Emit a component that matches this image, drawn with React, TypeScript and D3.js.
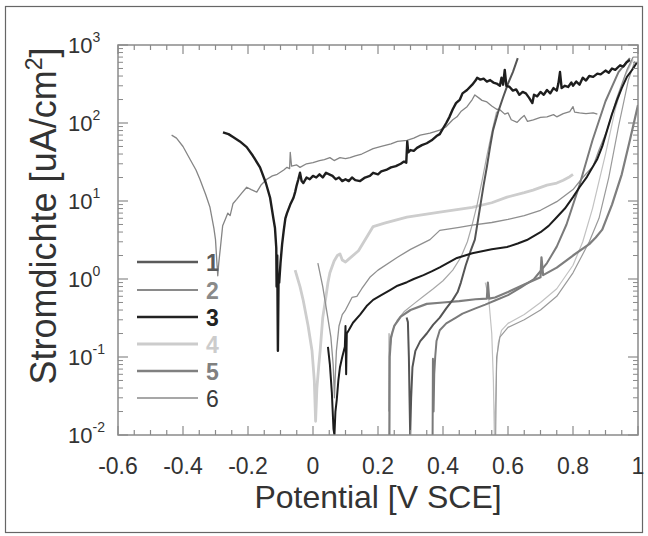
import React from "react";
import * as d3 from "d3";

// ---- axis ticks ----
const xTickValues = [-0.6, -0.4, -0.2, 0, 0.2, 0.4, 0.6, 0.8, 1];
const xTickLabels = ["-0.6", "-0.4", "-0.2", "0", "0.2", "0.4", "0.6", "0.8", "1"];
const yDecades = [-2, -1, 0, 1, 2, 3];

// ---- legend ----
const legendLabels = ["1", "2", "3", "4", "5", "6"];

// ---- data: [potential V, current density uA/cm2] ----
const curveA: [number, number][] = [
  [-0.435, 70], [-0.42, 64], [-0.4, 50], [-0.378, 34], [-0.36, 25], [-0.348, 19], [-0.33, 12],
  [-0.317, 8.3], [-0.305, 4.5], [-0.3, 3.2], [-0.296, 1.7], [-0.293, 1.1], [-0.29, 1.6],
  [-0.285, 2.5], [-0.278, 4.8], [-0.27, 5.8], [-0.262, 7], [-0.255, 6.5], [-0.246, 9.3],
  [-0.235, 10.5], [-0.22, 12.5], [-0.204, 15], [-0.19, 14], [-0.173, 13], [-0.16, 16],
  [-0.142, 19], [-0.125, 21], [-0.11, 22], [-0.09, 25], [-0.08, 27], [-0.072, 26], [-0.07, 42],
  [-0.066, 28], [-0.05, 29], [-0.04, 27], [-0.02, 30], [0.0, 31], [0.02, 33], [0.035, 34],
  [0.052, 36], [0.065, 33], [0.083, 36], [0.1, 35], [0.114, 36], [0.13, 38], [0.15, 40],
  [0.185, 47], [0.21, 50], [0.24, 54], [0.26, 58], [0.289, 60], [0.31, 64], [0.33, 70],
  [0.36, 74], [0.39, 81], [0.41, 90], [0.43, 110], [0.443, 120], [0.455, 140], [0.474, 162],
  [0.49, 200], [0.498, 229], [0.51, 210], [0.52, 195], [0.535, 186], [0.55, 165], [0.565, 150],
  [0.575, 148], [0.59, 130], [0.6, 135], [0.61, 110], [0.628, 102], [0.64, 115], [0.65, 125],
  [0.66, 105], [0.678, 110], [0.7, 118], [0.72, 120], [0.74, 128], [0.75, 120], [0.77, 132],
  [0.79, 140], [0.8, 162], [0.805, 138], [0.82, 135], [0.84, 132], [0.862, 135], [0.875, 130],
];

const curveB: [number, number][] = [
  [-0.277, 76], [-0.26, 72], [-0.246, 66], [-0.225, 58], [-0.204, 49], [-0.185, 38], [-0.163, 27],
  [-0.145, 17], [-0.132, 11], [-0.122, 6], [-0.117, 4.5], [-0.113, 2.5], [-0.112, 0.8],
  [-0.11, 2.0], [-0.108, 0.12], [-0.106, 1.0], [-0.104, 0.9], [-0.1, 1.6], [-0.095, 2.8],
  [-0.09, 4.2], [-0.085, 6], [-0.08, 7], [-0.07, 9], [-0.06, 11], [-0.055, 13], [-0.05, 16],
  [-0.045, 19], [-0.04, 23], [-0.035, 18], [-0.03, 17], [-0.02, 20], [-0.01, 19], [0.0, 21],
  [0.01, 20], [0.02, 22], [0.03, 20], [0.04, 23], [0.05, 22], [0.06, 21], [0.07, 19], [0.08, 20],
  [0.09, 18], [0.1, 19], [0.11, 18], [0.12, 20], [0.13, 18.5], [0.145, 18], [0.16, 20],
  [0.175, 21], [0.185, 23], [0.2, 22], [0.21, 24], [0.225, 25], [0.24, 27], [0.255, 28],
  [0.27, 30], [0.28, 32], [0.287, 31], [0.29, 58], [0.293, 42], [0.3, 45], [0.31, 44],
  [0.32, 48], [0.335, 52], [0.35, 55], [0.365, 60], [0.38, 68], [0.39, 72], [0.4, 85],
  [0.41, 100], [0.42, 120], [0.43, 150], [0.44, 180], [0.452, 200], [0.46, 240], [0.474, 265],
  [0.49, 310], [0.5, 350], [0.505, 380], [0.515, 360], [0.525, 370], [0.535, 340], [0.545, 355],
  [0.555, 330], [0.565, 320], [0.575, 300], [0.58, 380], [0.585, 310], [0.59, 480], [0.595, 300],
  [0.605, 290], [0.615, 260], [0.625, 270], [0.635, 230], [0.645, 250], [0.655, 240],
  [0.665, 210], [0.675, 180], [0.68, 230], [0.69, 220], [0.7, 250], [0.71, 230], [0.72, 265],
  [0.73, 240], [0.74, 280], [0.75, 260], [0.755, 320], [0.76, 450], [0.765, 280], [0.775, 300],
  [0.785, 290], [0.795, 330], [0.8, 300], [0.81, 340], [0.82, 310], [0.83, 380], [0.84, 350],
  [0.85, 400], [0.862, 390], [0.875, 430], [0.885, 420], [0.9, 470], [0.91, 440], [0.92, 500],
  [0.93, 480], [0.945, 550], [0.955, 530], [0.965, 600], [0.975, 640],
];

const curveC: [number, number][] = [
  [-0.055, 1.3], [-0.04, 0.8], [-0.03, 0.53], [-0.015, 0.25], [-0.003, 0.12], [0.004, 0.05],
  [0.008, 0.015], [0.012, 0.04], [0.018, 0.08], [0.022, 0.12], [0.03, 0.32], [0.04, 0.6],
  [0.046, 0.9], [0.052, 1.2], [0.065, 1.7], [0.075, 2.0], [0.083, 2.1], [0.09, 1.75],
  [0.1, 1.65], [0.11, 1.8], [0.14, 2.3], [0.185, 4.7], [0.22, 5.2], [0.289, 6.2], [0.39, 7.2],
  [0.49, 8.3], [0.55, 9.5], [0.597, 11.2], [0.65, 12.8], [0.677, 13.8], [0.72, 16], [0.75, 17],
  [0.77, 18.5], [0.79, 20.5], [0.8, 22],
];

const curveD: [number, number][] = [
  [0.015, 1.6], [0.03, 0.8], [0.045, 0.33], [0.055, 0.18], [0.062, 0.08], [0.066, 0.03],
  [0.068, 0.05], [0.072, 0.12], [0.08, 0.25], [0.09, 0.35], [0.1, 0.4], [0.12, 0.58],
  [0.135, 0.6], [0.15, 0.75], [0.175, 1.05], [0.2, 1.3], [0.26, 1.9], [0.3, 2.4], [0.36, 3.2],
  [0.39, 4.2], [0.45, 4.6], [0.49, 4.9], [0.55, 5.3], [0.6, 5.8], [0.65, 6.5], [0.7, 7.6],
  [0.75, 9.8], [0.8, 14], [0.83, 20], [0.862, 28], [0.88, 45], [0.905, 81], [0.935, 210],
  [0.966, 480], [0.985, 700],
];

const curveE: [number, number][] = [
  [0.046, 0.135], [0.052, 0.08], [0.058, 0.035], [0.063, 0.012], [0.066, 0.01], [0.069, 0.02],
  [0.073, 0.028], [0.078, 0.05], [0.083, 0.074], [0.09, 0.1], [0.098, 0.135], [0.1, 0.25],
  [0.102, 0.06], [0.104, 0.2], [0.11, 0.22], [0.123, 0.275], [0.145, 0.35], [0.165, 0.45],
  [0.185, 0.54], [0.21, 0.62], [0.237, 0.72], [0.26, 0.82], [0.289, 0.91], [0.31, 1.0],
  [0.34, 1.12], [0.365, 1.25], [0.39, 1.41], [0.443, 1.86], [0.49, 2.14], [0.55, 2.4],
  [0.597, 2.57], [0.63, 2.85], [0.658, 3.16], [0.7, 3.98], [0.725, 4.8], [0.75, 6.2],
  [0.775, 8], [0.8, 11.2], [0.82, 15], [0.843, 20.4], [0.874, 34], [0.89, 50], [0.905, 81],
  [0.92, 130], [0.935, 195], [0.95, 280], [0.966, 390], [0.985, 500], [0.997, 600],
];

const curveF: [number, number][] = [
  [0.288, 0.32], [0.292, 0.28], [0.295, 0.1], [0.297, 0.03], [0.299, 0.01], [0.302, 0.03],
  [0.306, 0.074], [0.315, 0.12], [0.33, 0.16], [0.35, 0.2], [0.37, 0.26], [0.39, 0.32],
  [0.41, 0.42], [0.43, 0.54], [0.445, 0.68], [0.455, 0.9], [0.47, 1.5], [0.485, 2.3],
  [0.498, 3.2], [0.514, 8.3], [0.525, 16], [0.535, 27.5], [0.545, 50], [0.554, 81], [0.57, 140],
  [0.585, 214], [0.6, 320], [0.615, 450], [0.63, 680],
];

const curveG: [number, number][] = [
  [0.235, 0.01], [0.236, 0.1], [0.24, 0.18], [0.25, 0.25], [0.27, 0.33], [0.3, 0.4],
  [0.35, 0.48], [0.4, 0.5], [0.45, 0.52], [0.5, 0.55], [0.535, 0.56], [0.538, 0.9],
  [0.542, 0.56], [0.56, 0.58], [0.6, 0.68], [0.65, 0.85], [0.7, 1.05], [0.703, 1.9],
  [0.708, 1.12], [0.75, 1.4], [0.8, 2.0], [0.85, 2.8], [0.87, 3.4], [0.89, 4.3], [0.92, 9],
  [0.95, 22], [0.975, 60], [1.0, 170],
];

const curveH: [number, number][] = [
  [0.53, 0.9], [0.54, 0.6], [0.55, 0.2], [0.555, 0.05], [0.558, 0.01], [0.562, 0.03],
  [0.565, 0.08], [0.57, 0.15], [0.58, 0.22], [0.6, 0.27], [0.65, 0.35], [0.7, 0.5],
  [0.75, 0.75], [0.8, 1.5], [0.83, 3], [0.86, 8], [0.9, 40], [0.93, 150], [0.96, 400],
  [0.985, 650],
];

const curveI: [number, number][] = [
  [0.562, 0.01], [0.565, 0.1], [0.575, 0.18], [0.6, 0.24], [0.65, 0.3], [0.7, 0.4],
  [0.75, 0.6], [0.8, 1.2], [0.85, 3], [0.88, 6], [0.91, 20], [0.94, 90], [0.97, 350],
  [0.99, 620],
];

const curveJ: [number, number][] = [
  [0.233, 0.02], [0.234, 0.2], [0.236, 0.12], [0.245, 0.22], [0.26, 0.3], [0.28, 0.38],
  [0.31, 0.48], [0.34, 0.6], [0.37, 0.75], [0.4, 0.95], [0.43, 1.3], [0.455, 1.9], [0.475, 3],
  [0.49, 5], [0.505, 9], [0.52, 18], [0.535, 38], [0.55, 75], [0.565, 140],
];

const curveK: [number, number][] = [
  [0.368, 0.01], [0.369, 0.095], [0.371, 0.02], [0.373, 0.06], [0.376, 0.1], [0.38, 0.16],
  [0.39, 0.22], [0.41, 0.27], [0.44, 0.32], [0.46, 0.36], [0.5, 0.42], [0.53, 0.47],
  [0.56, 0.53], [0.6, 0.62], [0.64, 0.78], [0.68, 1.0], [0.72, 1.6], [0.75, 2.6], [0.78, 5],
  [0.82, 16], [0.86, 60], [0.9, 190], [0.94, 450], [0.975, 680],
];

const series = [
  { data: curveA, color: "#858585", width: 1.3 },
  { data: curveC, color: "#cdcdcd", width: 2.8 },
  { data: curveH, color: "#c2c2c2", width: 1.2 },
  { data: curveJ, color: "#a8a8a8", width: 1.2 },
  { data: curveI, color: "#9a9a9a", width: 1.2 },
  { data: curveD, color: "#8f8f8f", width: 1.3 },
  { data: curveK, color: "#7a7a7a", width: 2.0 },
  { data: curveG, color: "#7e7e7e", width: 2.2 },
  { data: curveF, color: "#555555", width: 2.0 },
  { data: curveE, color: "#1c1c1c", width: 2.0 },
  { data: curveB, color: "#1e1e1e", width: 2.4 },
];

const legendStyles = [
  { color: "#5a5a5a", width: 2.5, bold: true },
  { color: "#8a8a8a", width: 2.2, bold: true },
  { color: "#222222", width: 2.5, bold: true },
  { color: "#cccccc", width: 2.8, bold: true },
  { color: "#808080", width: 2.5, bold: true },
  { color: "#8a8a8a", width: 1.3, bold: false },
];

const FONT = "'Liberation Sans', Arial, Helvetica, sans-serif";

export default function App() {
  const left = 118, right = 638, top = 45, bottom = 435;
  const x = d3.scaleLinear().domain([-0.6, 1.0]).range([left, right]);
  const y = d3.scaleLog().domain([0.01, 1000]).range([bottom, top]);
  const line = d3
    .line<[number, number]>()
    .x((d) => x(d[0]))
    .y((d) => y(d[1]));

  const frame = "#8a8a8a";
  const xMinor = d3.range(-0.6, 1.0001, 0.05).map((v) => +v.toFixed(2));
  const yMinor: number[] = [];
  for (let e = -2; e < 3; e++) for (let m = 2; m <= 9; m++) yMinor.push(m * Math.pow(10, e));

  const legendY = [262, 290, 317, 344, 371, 398];
  const txt = "#333";

  return (
    <div style={{ position: "fixed", left: 0, top: 0 }}>
      <svg width={648} height={536} style={{ display: "block", background: "#fff" }}>
        <rect x={5.5} y={6.5} width={637} height={526} fill="#fff" stroke="#666" strokeWidth={1.2} />
        {/* series */}
        <g clipPath="url(#clip)">
          <defs>
            <clipPath id="clip">
              <rect x={left} y={top} width={right - left} height={bottom - top} />
            </clipPath>
          </defs>
          {series.map((s, i) => (
            <path key={i} d={line(s.data) || ""} fill="none" stroke={s.color} strokeWidth={s.width} strokeLinejoin="round" />
          ))}
        </g>
        {/* frame */}
        <rect x={left} y={top} width={right - left} height={bottom - top} fill="none" stroke={frame} strokeWidth={1.5} />
        {/* x ticks */}
        {xMinor.map((v, i) => {
          const major = Math.abs(Math.round(v * 5) - v * 5) < 1e-6;
          const len = major ? 9 : 5;
          return (
            <g key={"xt" + i} stroke={frame} strokeWidth={1.2}>
              <line x1={x(v)} x2={x(v)} y1={bottom} y2={bottom - len} />
              <line x1={x(v)} x2={x(v)} y1={top} y2={top + len} />
            </g>
          );
        })}
        {/* y ticks */}
        {yDecades.map((e) => (
          <g key={"yd" + e} stroke={frame} strokeWidth={1.2}>
            <line x1={left} x2={left + 10} y1={y(Math.pow(10, e))} y2={y(Math.pow(10, e))} />
            <line x1={right} x2={right - 10} y1={y(Math.pow(10, e))} y2={y(Math.pow(10, e))} />
          </g>
        ))}
        {yMinor.map((v, i) => (
          <g key={"ym" + i} stroke={frame} strokeWidth={1}>
            <line x1={left} x2={left + 5} y1={y(v)} y2={y(v)} />
            <line x1={right} x2={right - 5} y1={y(v)} y2={y(v)} />
          </g>
        ))}
        {/* x tick labels */}
        {xTickValues.map((v, i) => (
          <text key={"xl" + i} x={x(v)} y={474} textAnchor="middle" fontFamily={FONT} fontSize={23} fill={txt}>
            {xTickLabels[i]}
          </text>
        ))}
        {/* y tick labels */}
        {yDecades.map((e) => (
          <text key={"yl" + e} x={68} y={y(Math.pow(10, e)) + 8} fontFamily={FONT} fontSize={22} fill={txt}>
            10
            <tspan fontSize={14} dy={-11}>{String(e)}</tspan>
          </text>
        ))}
        {/* axis titles */}
        <text x={378} y={508} textAnchor="middle" fontFamily={FONT} fontSize={32} fill={txt}>
          Potential [V SCE]
        </text>
        <text transform="translate(56,216) rotate(-90)" textAnchor="middle" fontFamily={FONT} fontSize={36} fill={txt}>
          Stromdichte [uA/cm
          <tspan fontSize={23} dy={-14}>2</tspan>
          <tspan dy={14}>]</tspan>
        </text>
        {/* legend */}
        {legendLabels.map((lab, i) => (
          <g key={"lg" + i}>
            <line x1={137} x2={198} y1={legendY[i]} y2={legendY[i]} stroke={legendStyles[i].color} strokeWidth={legendStyles[i].width} />
            <text
              x={206}
              y={legendY[i] + 8.5}
              fontFamily={FONT}
              fontSize={23}
              fontWeight={legendStyles[i].bold ? "bold" : "normal"}
              fill={i === 5 ? "#3a3a3a" : legendStyles[i].color}
            >
              {lab}
            </text>
          </g>
        ))}
      </svg>
    </div>
  );
}
